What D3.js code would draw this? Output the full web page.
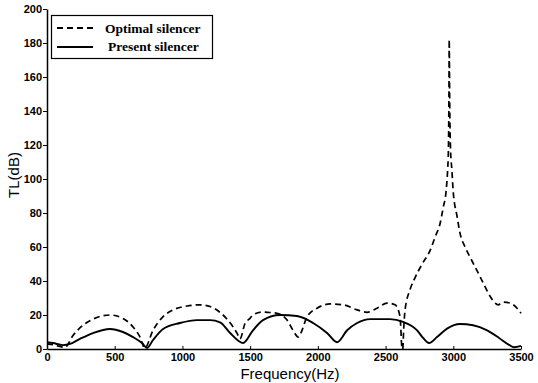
<!DOCTYPE html>
<html>
<head>
<meta charset="utf-8">
<script src="https://cdn.jsdelivr.net/npm/d3@7"></script>
<style>
  html, body { margin: 0; padding: 0; background: #fff; }
  svg { display: block; }
</style>
</head>
<body>
<svg id="chart" width="538" height="383"></svg>
<script>
// ---- Data ----
const seriesNames = ["Optimal silencer", "Present silencer"];

const freqOptimal = [0, 44, 133, 192, 266, 340, 465, 561, 635, 687, 722, 783, 857, 931, 1034, 1130, 1204, 1278, 1374, 1405, 1425, 1462, 1499, 1521, 1595, 1625, 1699, 1773, 1817, 1856, 1883, 1920, 1994, 2090, 2186, 2290, 2363, 2437, 2511, 2570, 2607, 2622, 2627, 2634, 2644, 2681, 2718, 2770, 2829, 2866, 2903, 2925, 2947, 2958, 2964, 2968, 2970, 2973, 2980, 2990, 2999, 3028, 3050, 3087, 3124, 3176, 3220, 3272, 3309, 3331, 3368, 3419, 3471, 3500];
const tlOptimal   = [3, 2.5, 1, 8, 14, 17.6, 20, 18, 13, 7, 0.5, 11, 19, 23, 25.3, 26, 25, 21.5, 13, 9, 6, 15, 18, 20, 21.8, 21.6, 21, 17, 11, 7, 11, 19, 24, 26.5, 26, 23, 21.6, 24, 27, 26, 19, 0, 0, 12, 23, 35, 42, 50, 58, 66, 74, 83, 93, 105, 117, 150, 182, 150, 117, 105, 93, 78, 68, 60, 54, 46, 39, 31, 27, 26, 27.6, 27, 24, 21];

const freqPresent = [0, 44, 118, 170, 244, 340, 465, 561, 635, 702, 739, 783, 857, 982, 1108, 1204, 1278, 1352, 1448, 1521, 1595, 1721, 1846, 1965, 2068, 2142, 2216, 2290, 2386, 2533, 2629, 2733, 2777, 2821, 2880, 2954, 3050, 3146, 3250, 3338, 3412, 3449, 3500];
const tlPresent   = [4, 3.5, 2.3, 3, 6, 9.4, 11.8, 10, 7, 3.5, 0.6, 5.3, 11.8, 15.3, 17, 17, 15.7, 9.4, 3.5, 11, 17, 20, 19.4, 15.3, 9.4, 4, 11, 15.3, 17.6, 17.6, 16, 11, 6.5, 3.5, 7, 12, 14.7, 14, 11, 6.5, 2.4, 1, 1.8];

const xTicks = [0, 500, 1000, 1500, 2000, 2500, 3000, 3500];
const yTicks = [0, 20, 40, 60, 80, 100, 120, 140, 160, 180, 200];
const xLabel = "Frequency(Hz)";
const yLabel = "TL(dB)";

// ---- Layout ----
const svg = d3.select("#chart");
const x = d3.scaleLinear().domain([0, 3500]).range([47, 521]);
const y = d3.scaleLinear().domain([0, 200]).range([349, 9]);

const line = d3.line()
  .x(d => x(d[0]))
  .y(d => y(d[1]))
  .curve(d3.curveMonotoneX);

const optimal = freqOptimal.map((f, i) => [f, tlOptimal[i]]);
const present = freqPresent.map((f, i) => [f, tlPresent[i]]);

// Curves
svg.append("path")
  .datum(present)
  .attr("d", line)
  .attr("fill", "none")
  .attr("stroke", "#000")
  .attr("stroke-width", 1.9);

svg.append("path")
  .datum(optimal)
  .attr("d", line)
  .attr("fill", "none")
  .attr("stroke", "#000")
  .attr("stroke-width", 1.7)
  .attr("stroke-dasharray", "6,4");

// Axes
const xAxis = svg.append("g")
  .attr("transform", `translate(0,${y(0)})`)
  .call(d3.axisBottom(x).tickValues(xTicks).tickSizeInner(-3).tickSizeOuter(0).tickPadding(4).tickFormat(d3.format("d")));
const yAxis = svg.append("g")
  .attr("transform", `translate(${x(0)},0)`)
  .call(d3.axisLeft(y).tickValues(yTicks).tickSizeInner(4).tickSizeOuter(0).tickPadding(1).tickFormat(d3.format("d")));

[xAxis, yAxis].forEach(g => {
  g.select(".domain").attr("stroke", "#000").attr("stroke-width", 1.5);
  g.selectAll(".tick line").attr("stroke", "#000").attr("stroke-width", 1);
  g.selectAll(".tick text")
    .attr("fill", "#000")
    .style("font-family", "Arial, 'Liberation Sans', sans-serif")
    .style("font-size", "11px")
    .style("font-weight", "bold");
});

// Axis titles
svg.append("text")
  .attr("x", 290)
  .attr("y", 379)
  .attr("text-anchor", "middle")
  .style("font-family", "Arial, 'Liberation Sans', sans-serif")
  .style("font-size", "15px")
  .text(xLabel);

svg.append("text")
  .attr("transform", "translate(18.5,175) rotate(-90)")
  .attr("text-anchor", "middle")
  .style("font-family", "Arial, 'Liberation Sans', sans-serif")
  .style("font-size", "15px")
  .text(yLabel);

// Legend
const legend = svg.append("g");
legend.append("rect")
  .attr("x", 51.5).attr("y", 15.5)
  .attr("width", 161).attr("height", 43)
  .attr("fill", "#fff")
  .attr("stroke", "#000")
  .attr("stroke-width", 1.2);

const legendRows = [
  { name: seriesNames[0], dash: "6,4", ly: 28, ty: 32.5, tx: 105 },
  { name: seriesNames[1], dash: null, ly: 47, ty: 51, tx: 108 }
];
legendRows.forEach(r => {
  legend.append("line")
    .attr("x1", 57).attr("x2", 93)
    .attr("y1", r.ly).attr("y2", r.ly)
    .attr("stroke", "#000")
    .attr("stroke-width", 1.8)
    .attr("stroke-dasharray", r.dash);
  legend.append("text")
    .attr("x", r.tx).attr("y", r.ty)
    .style("font-family", "'Times New Roman', 'Liberation Serif', serif")
    .style("font-size", "13.5px")
    .style("font-weight", "bold")
    .text(r.name);
});
</script>
</body>
</html>
